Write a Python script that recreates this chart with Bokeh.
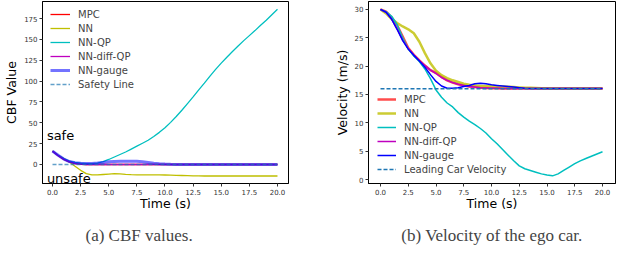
from bokeh.plotting import figure
from bokeh.models import FixedTicker, Legend, LegendItem, Range1d, PrintfTickFormatter
from bokeh.layouts import row
from bokeh.core.properties import value
from bokeh.embed import file_html
from bokeh.resources import INLINE

# ---------------- data ----------------
t = [0, 0.5, 1, 1.5, 2, 2.5, 3, 3.5, 4, 4.5, 5, 5.5, 6, 6.5, 7, 7.5, 8, 8.5, 9, 9.5,
     10, 10.5, 11, 11.5, 12, 12.5, 13, 13.5, 14, 14.5, 15, 15.5, 16, 16.5, 17, 17.5,
     18, 18.5, 19, 19.5, 20]

# CBF values (left)
cbf_mpc = [16, 10.5, 6, 3, 1, 0.3, 0, 0, 0, 0, 0, 0, 0, 0, 0, 0, 0, 0, 0, 0,
           0, 0, 0, 0, 0, 0, 0, 0, 0, 0, 0, 0, 0, 0, 0, 0, 0, 0, 0, 0, 0]
cbf_nn = [16, 11, 7, 3, -2, -7, -11, -12.5, -12.5, -12, -11.5, -11, -11.2, -11.8, -12.2,
          -12.4, -12.5, -12.5, -12.5, -12.5, -12.6, -12.8, -13, -13.2, -13.4, -13.6, -13.7,
          -13.8, -13.8, -13.8, -13.8, -13.8, -13.8, -13.8, -13.8, -13.8, -13.8, -13.8,
          -13.8, -13.8, -13.8]
cbf_nnqp = [16, 11, 7, 4, 2.5, 1.5, 1, 1, 1.5, 3.5, 6, 9, 12, 15, 18.5, 22, 25.5, 29, 33.5,
            38.5, 44, 50.5, 57.5, 65, 73, 81, 89.5, 97.5, 106, 114, 121.5, 128.5, 135.5, 142,
            148.5, 154.5, 160.5, 167, 173, 179.5, 186]
cbf_diffqp = [16, 10.8, 6.3, 3.2, 1.2, 0.4, 0, 0, 0, 0, 0, 0, 0, 0, 0, 0, 0, 0, 0, 0,
              0, 0, 0, 0, 0, 0, 0, 0, 0, 0, 0, 0, 0, 0, 0, 0, 0, 0, 0, 0, 0]
cbf_gauge = [16, 11, 6.5, 3.5, 2, 1.5, 1.2, 1.3, 1.8, 2.5, 3.2, 3.6, 3.8, 3.9, 4, 3.8, 3.2,
             2.4, 1.6, 1, 0.5, 0.2, 0, 0, 0, 0, 0, 0, 0, 0, 0, 0, 0, 0, 0, 0, 0, 0, 0, 0, 0]
safety_x = [0, 20]
safety_y = [0, 0]

# Velocities (right)
v_mpc = [30, 29.6, 28.6, 27.2, 25.2, 23.2, 22.0, 21.0, 20.1, 19.3, 18.8, 18.1, 17.5, 17.1,
         16.8, 16.6, 16.4, 16.3, 16.2, 16.15, 16.1, 16.1, 16.05, 16.05, 16.05, 16.05, 16.05,
         16.05, 16.05, 16.05, 16.05, 16.05, 16.05, 16.05, 16.05, 16.05, 16.05, 16.05,
         16.05, 16.05, 16.05]
v_nn = [30, 29.3, 28.3, 27.6, 27.0, 26.5, 25.8, 24.3, 22.3, 20.5, 19.2, 18.4, 17.9, 17.5,
        17.2, 16.9, 16.7, 16.6, 16.5, 16.5, 16.5, 16.45, 16.4, 16.35, 16.3, 16.25, 16.2,
        16.2, 16.15, 16.1, 16.1, 16.05, 16.05, 16.05, 16.05, 16.05, 16.05, 16.05, 16.05,
        16.05, 16.05]
v_nnqp = [30, 29.6, 28.8, 27.3, 25, 23, 21.8, 20.8, 19.5, 17.8, 15.8, 14.5, 13.5, 12.8,
          11.8, 11, 10.3, 9.7, 9.0, 8.2, 7.2, 6.3, 5.3, 4.3, 3.3, 2.4, 1.9, 1.6, 1.3, 1.0,
          0.8, 0.65, 1.0, 1.6, 2.2, 2.8, 3.3, 3.7, 4.1, 4.5, 4.9]
v_diffqp = [30, 29.5, 28.3, 26.5, 24.6, 23.1, 22.0, 21.0, 20.1, 19.3, 18.7, 18.0, 17.5,
            17.1, 16.8, 16.6, 16.4, 16.3, 16.2, 16.15, 16.1, 16.1, 16.05, 16.05, 16.05,
            16.05, 16.05, 16.05, 16.05, 16.05, 16.05, 16.05, 16.05, 16.05, 16.05, 16.05,
            16.05, 16.05, 16.05, 16.05, 16.05]
v_gauge = [30, 29.5, 28.3, 26.5, 24.5, 23.0, 21.9, 20.9, 19.8, 18.5, 17.3, 16.5, 16.1, 16.1,
           16.2, 16.4, 16.6, 16.9, 17.0, 16.9, 16.7, 16.6, 16.5, 16.4, 16.3, 16.2, 16.1,
           16.05, 16.05, 16.05, 16.05, 16.05, 16.05, 16.05, 16.05, 16.05, 16.05, 16.05,
           16.05, 16.05, 16.05]
lead_x = [0, 20]
lead_y = [16, 16]

x_ticks = [0, 2.5, 5, 7.5, 10, 12.5, 15, 17.5, 20]
cbf_ticks = [0, 25, 50, 75, 100, 125, 150, 175]
v_ticks = [0, 5, 10, 15, 20, 25, 30]

RED = "#ff0000"
OLIVE = "#bfbf00"
CYAN = "#00bfbf"
MAG = "#bf00bf"
BLUE = "#0000ff"
DASH = "#1f77b4"


def style(p, ylabel, yticks):
    p.outline_line_color = "black"
    p.outline_line_width = 1
    p.xgrid.visible = False
    p.ygrid.visible = False
    for ax in (p.xaxis[0], p.yaxis[0]):
        ax.axis_line_color = "black"
        ax.major_tick_line_color = "#333333"
        ax.major_tick_out = 3
        ax.major_tick_in = 0
        ax.minor_tick_out = 0
        ax.minor_tick_in = 0
        ax.major_label_text_font = "DejaVu Sans"
        ax.major_label_text_font_size = "7px"
        ax.major_label_text_color = "#333333"
        ax.major_label_standoff = 2
        ax.axis_label_text_font = "DejaVu Sans"
        ax.axis_label_text_font_size = "12.5px"
        ax.axis_label_text_font_style = "normal"
        ax.axis_label_text_color = "black"
        ax.axis_label_standoff = 2
    p.xaxis.axis_label_standoff = -2
    p.xaxis.ticker = FixedTicker(ticks=x_ticks)
    p.xaxis.formatter = PrintfTickFormatter(format="%.1f")
    p.yaxis.ticker = FixedTicker(ticks=yticks)
    p.xaxis.axis_label = "Time (s)"
    p.yaxis.axis_label = ylabel
    p.title.text_font = "Liberation Serif"
    p.title.text_font_size = "17px"
    p.title.text_font_style = "normal"
    p.title.standoff = 21


# ---------------- left: CBF ----------------
p1 = figure(width=326, height=266, output_backend="svg", toolbar_location=None,
            x_range=Range1d(-0.889, 20.98), y_range=Range1d(-22.8, 195.4),
            min_border_left=42, min_border_right=38, min_border_top=1, min_border_bottom=83,
            title="(a) CBF values.", title_location="below")
style(p1, "CBF Value", cbf_ticks)
p1.title.align = "left"
p1.title.offset = 43

r1 = p1.line(t, cbf_mpc, line_color=RED, line_width=1.3)
r2 = p1.line(t, cbf_nn, line_color=OLIVE, line_width=1.3)
r3 = p1.line(t, cbf_nnqp, line_color=CYAN, line_width=1.3)
r4 = p1.line(t, cbf_diffqp, line_color=MAG, line_width=1.3)
r5 = p1.line(t, cbf_gauge, line_color=BLUE, line_width=3, line_alpha=0.55)
r6 = p1.line(safety_x, safety_y, line_color=DASH, line_width=1.5, line_alpha=0.7, line_dash="4 2")

p1.text(x=[-0.5], y=[35], text=["safe"], text_font=value("DejaVu Sans"),
        text_font_size="13px", text_baseline="middle", text_align="left")
p1.text(x=[-0.5], y=[-16.8], text=["unsafe"], text_font=value("DejaVu Sans"),
        text_font_size="13px", text_baseline="middle", text_align="left")

leg1 = Legend(items=[LegendItem(label="MPC", renderers=[r1]),
                     LegendItem(label="NN", renderers=[r2]),
                     LegendItem(label="NN-QP", renderers=[r3]),
                     LegendItem(label="NN-diff-QP", renderers=[r4]),
                     LegendItem(label="NN-gauge", renderers=[r5]),
                     LegendItem(label="Safety Line", renderers=[r6])],
              location=(8, 92), padding=0, margin=0, spacing=0,
              glyph_width=20, glyph_height=14, label_height=14, label_standoff=8,
              label_text_font="DejaVu Sans", label_text_font_size="10px",
              border_line_color=None, background_fill_alpha=0.0)
p1.add_layout(leg1)

# ---------------- right: velocity ----------------
p2 = figure(width=314, height=266, output_backend="svg", toolbar_location=None,
            x_range=Range1d(-1.081, 21.17), y_range=Range1d(-0.7, 31.4),
            min_border_left=42, min_border_right=25, min_border_top=1, min_border_bottom=83,
            title="(b) Velocity of the ego car.", title_location="below")
style(p2, "Velocity (m/s)", v_ticks)
p2.title.align = "center"

q1 = p2.line(t, v_mpc, line_color=RED, line_width=2.5, line_alpha=0.7)
q2 = p2.line(t, v_nn, line_color=OLIVE, line_width=2.5, line_alpha=0.8)
q3 = p2.line(t, v_nnqp, line_color=CYAN, line_width=1.5)
q4 = p2.line(t, v_diffqp, line_color=MAG, line_width=1.5)
q5 = p2.line(t, v_gauge, line_color=BLUE, line_width=1.5)
q6 = p2.line(lead_x, lead_y, line_color=DASH, line_width=1.5, line_dash="4 2")

leg2 = Legend(items=[LegendItem(label="MPC", renderers=[q1]),
                     LegendItem(label="NN", renderers=[q2]),
                     LegendItem(label="NN-QP", renderers=[q3]),
                     LegendItem(label="NN-diff-QP", renderers=[q4]),
                     LegendItem(label="NN-gauge", renderers=[q5]),
                     LegendItem(label="Leading Car Velocity", renderers=[q6])],
              location=(9, 7), padding=0, margin=0, spacing=0,
              glyph_width=19, glyph_height=14, label_height=14, label_standoff=8,
              label_text_font="DejaVu Sans", label_text_font_size="10px",
              border_line_color=None, background_fill_alpha=0.0)
p2.add_layout(leg2)

layout = row(p1, p2)
open("out.html", "w").write(file_html(layout, INLINE))
